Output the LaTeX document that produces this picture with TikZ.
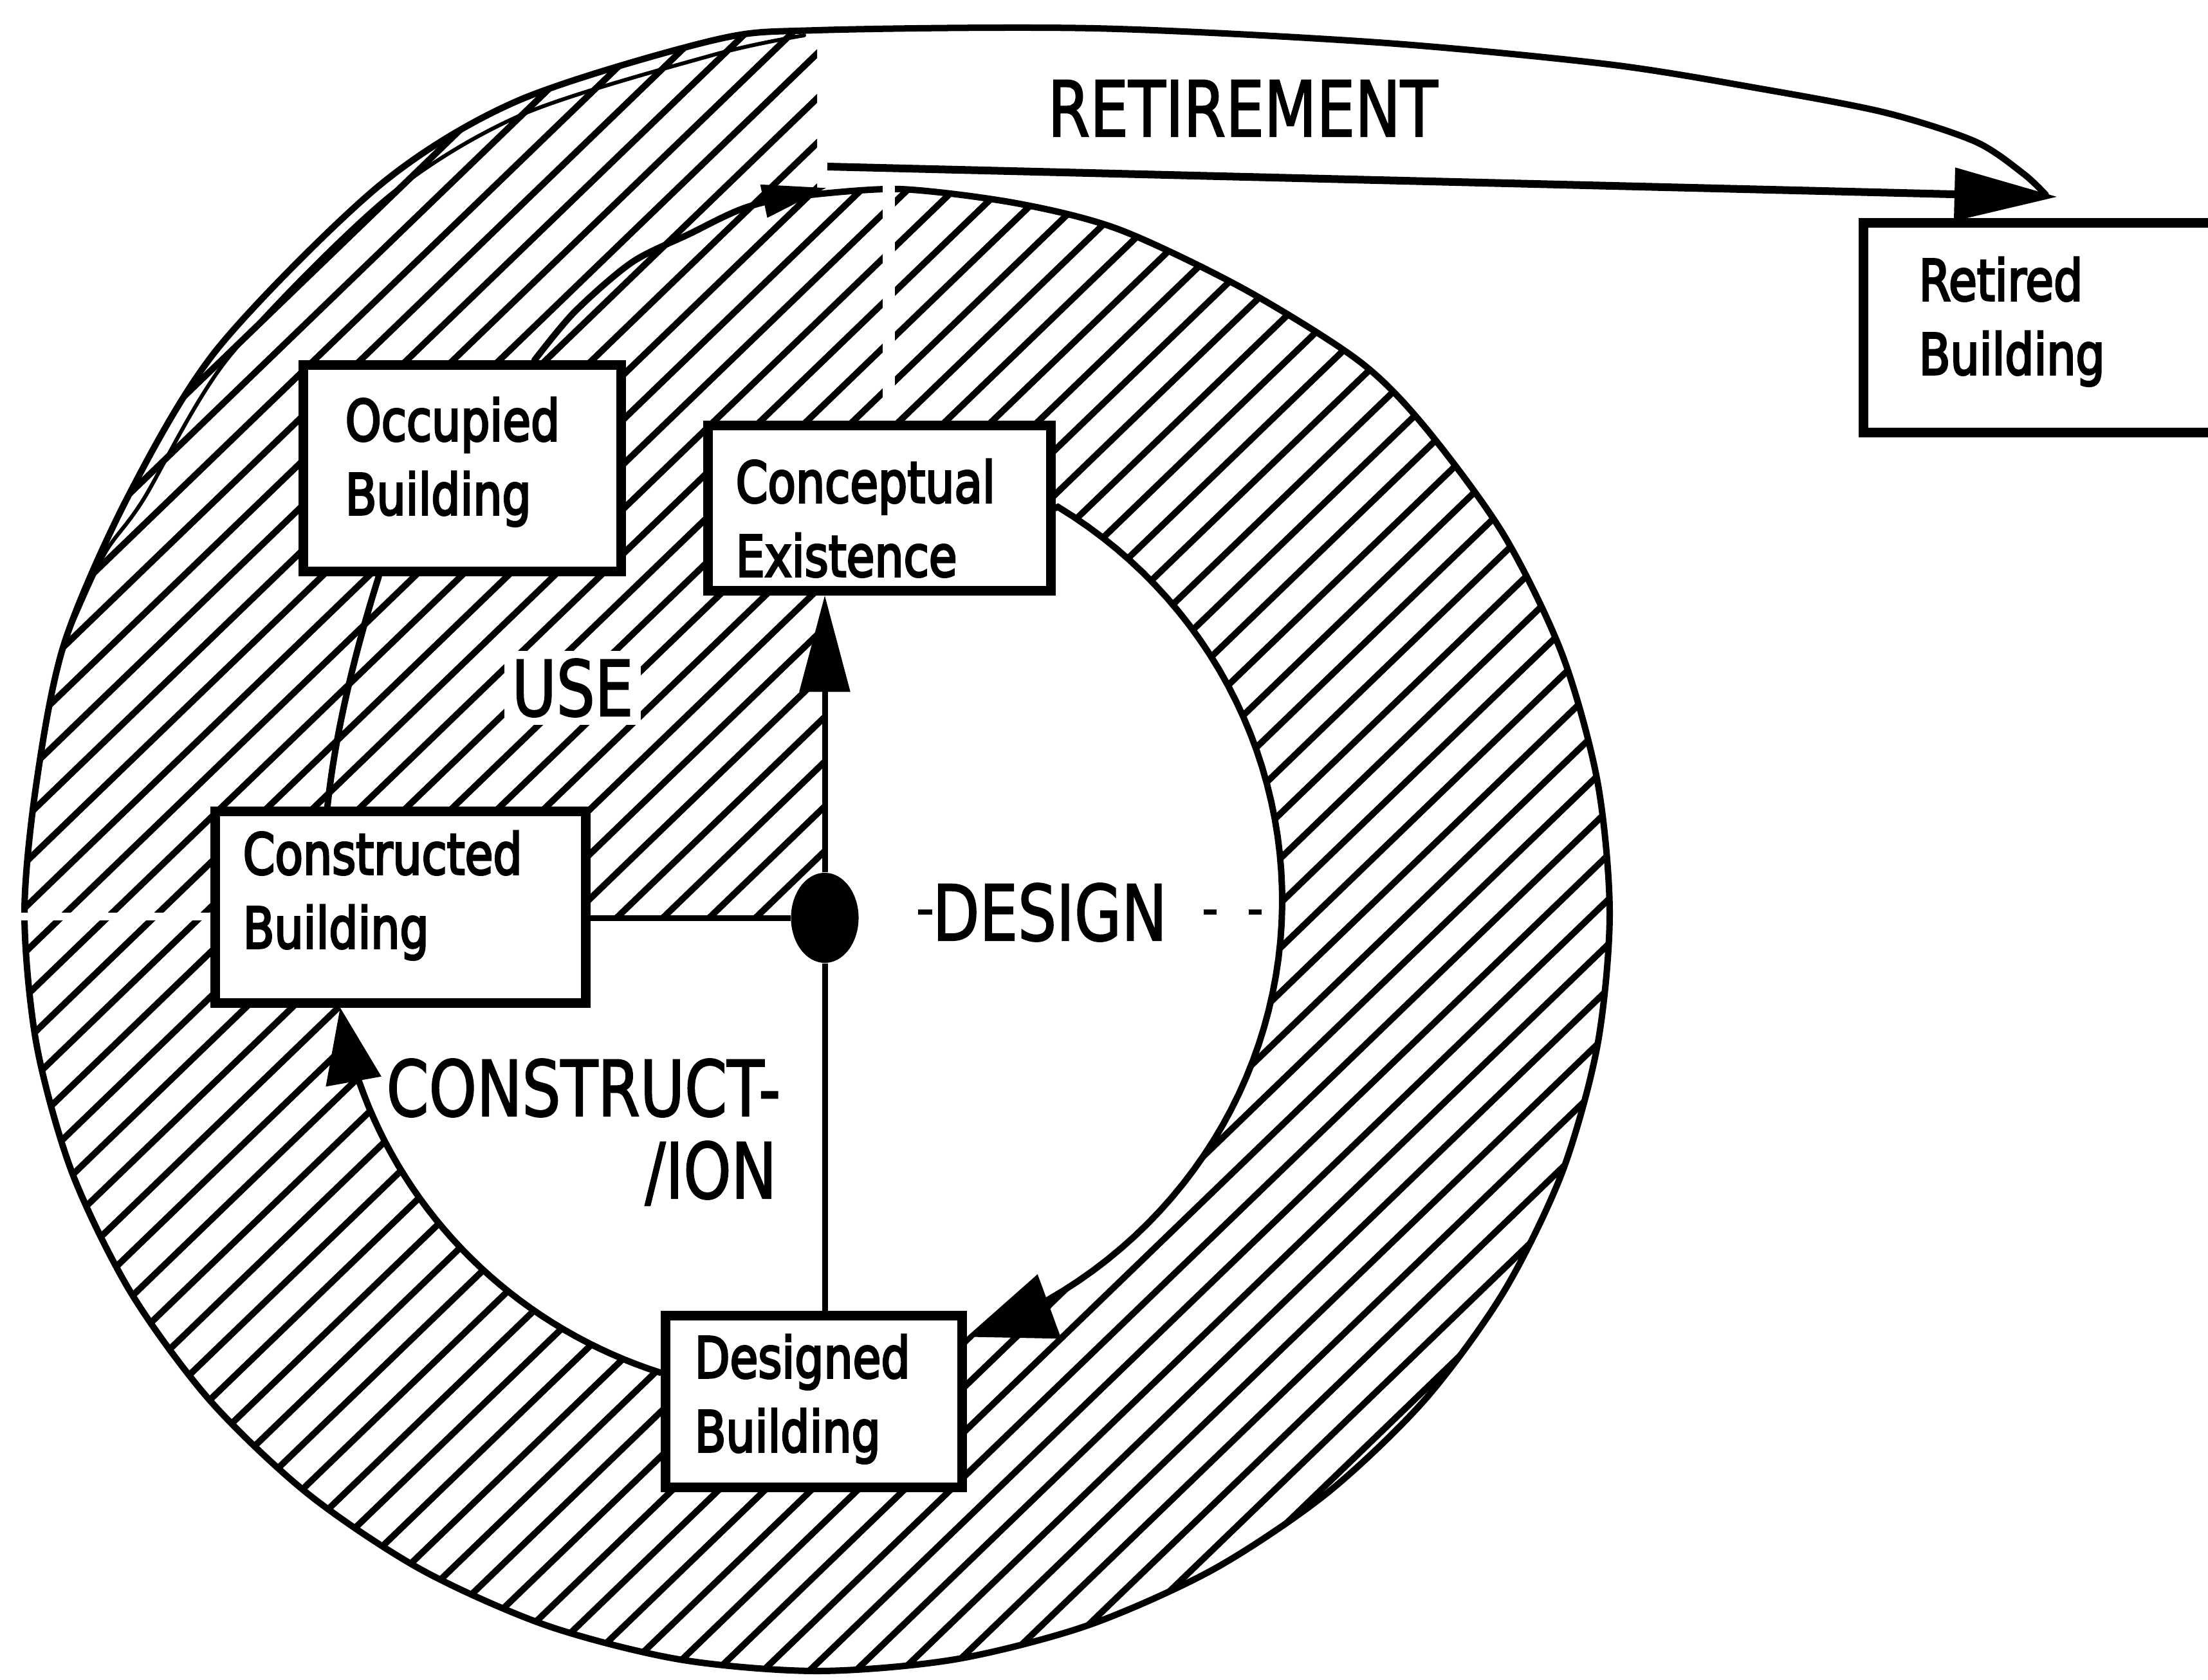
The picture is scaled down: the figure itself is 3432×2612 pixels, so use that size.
\documentclass[tikz,border=0pt]{standalone}
\usepackage{fontspec}
\setmainfont{DejaVu Sans}
\newfontfamily\stagefam{DejaVu Sans}[FakeBold=4]
\newfontfamily\phasefam{DejaVu Sans}[FakeBold=2]
\usepackage{graphicx}
\usetikzlibrary{arrows.meta,shapes.geometric,calc}
\pgfdeclarelayer{background}
\pgfsetlayers{background,main}

\newcommand{\boxfont}{\stagefam\fontsize{25}{32.7}\selectfont}
\newcommand{\bigfont}{\phasefam\fontsize{34}{40}\selectfont}
\newcommand{\twolines}[2]{\scalebox{0.81}[1]{\begin{tabular}[t]{@{}l@{}}#1\\#2\end{tabular}}}
\newcommand{\narrow}[1]{\scalebox{0.79}[1]{#1}}

\tikzset{
  stage/.style={draw, line width=0.15cm, fill=white, inner sep=0pt},
  boxlabel/.style={anchor=base west, inner sep=0pt, font=\boxfont},
  phase/.style={anchor=base west, inner sep=0pt, font=\bigfont},
  ringline/.style={line width=0.1cm, line join=round, line cap=round},
  flow/.style={line width=0.1cm, line cap=round},
  link/.style={line width=0.09cm},
  hatchline/.style={line width=0.1cm},
}

\begin{document}
\begin{tikzpicture}[x=0.01cm, y=-0.01cm]
\useasboundingbox (0,0) rectangle (3432,2612);

% life-cycle stages
\node[stage, minimum width=4.93cm, minimum height=3.20cm] (occupied) at (718.5,728) {};
\node[stage, minimum width=5.32cm, minimum height=2.56cm] (concept) at (1367,790) {};
\node[stage, minimum width=5.75cm, minimum height=2.97cm] (constructed) at (622.5,1410.5) {};
\node[stage, minimum width=4.60cm, minimum height=2.66cm] (designed) at (1265,2179) {};
\node[stage, minimum width=6.53cm, minimum height=3.25cm] (retired) at (3223.5,509.5) {};

\node[boxlabel] (occT) at (536,685) {\twolines{Occupied}{Building}};
\node[boxlabel] (conceptT) at (1143,781) {\twolines{Conceptual}{Existence}};
\node[boxlabel] (constructedT) at (377,1359) {\twolines{Constructed}{Building}};
\node[boxlabel] (designedT) at (1079,2142) {\twolines{Designed}{Building}};
\node[boxlabel] (retiredT) at (2982,467) {\twolines{Retired}{Building}};

% junction
\node[ellipse, fill=black, inner sep=0pt, minimum width=1.05cm, minimum height=1.4cm] (dot) at (1282,1427) {};

% phase names
\node[phase] (retireT) at (1628,212) {\narrow{RETIREMENT}};
\node[phase, fill=white, inner sep=0.12cm] (useT) at (783,1113) {\narrow{USE}};
\node[phase] (designT) at (1449,1462) {\narrow{DESIGN}};
\node[phase] (constrT) at (600,1735) {\narrow{CONSTRUCT-}};
\node[phase, anchor=base east] (ionT) at (1208,1863) {\narrow{/ION}};

% connector end points
\coordinate (conFrom) at ([yshift=0.445cm]designed.west);
\coordinate (useFrom) at ([xshift=1.12cm]occupied.north);
\coordinate (useTo) at (1285,292);
\coordinate (occFrom) at ([xshift=-1.135cm]constructed.north);
\coordinate (occTo) at ([xshift=-1.295cm]occupied.south);
\coordinate (retFrom) at (1286,259);
\coordinate (retTo) at (3198,306);

\begin{pgfonlayer}{background}
  % hatched ring
  \begin{scope}
    \clip plot[smooth] coordinates {(1270,303) (1400,294) (1580,316) (1740,357) (1933,449) (2112,561) (2214,663) (2337,831) (2428,1017) (2483,1215) (2502,1420) (2483,1625) (2428,1823) (2337,2009) (2214,2177) (2062,2322) (1886,2440) (1691,2527) (1484,2580) (1270,2598) (1056,2580) (849,2527) (654,2440) (478,2322) (326,2177) (203,2009) (112,1823) (57,1625) (38,1420) (57,1215) (100,1000) (200,770) (339,541) (589,289) (804,157) (1107,63) (1270,47)} -- cycle;
    \foreach \k in {-42,...,50}
      \draw[hatchline] ({\k*72},2700) -- ++(2900,-2800);
  \end{scope}
  % open interior of the cycle
  \fill[white] (1283,1428) -- (1283,918) -- (1640,918) -- (1640,790)
    -- plot[domain=58.2:-70.46, samples=60, variable=\t] ({1256+737*cos(\t)},{1400-720*sin(\t)})
    -- (1495,2090) -- (1028,2134)
    -- plot[domain=-108.06:-170.7, samples=40, variable=\t] ({1256+737*cos(\t)},{1450-720*sin(\t)})
    -- (527,1559) -- (910,1559) -- (910,1428) -- cycle;
  % ring outline running into the retirement band
  \draw[ringline] plot[smooth] coordinates {(1260,303) (1400,294) (1580,316) (1740,357) (1933,449) (2112,561) (2214,663) (2337,831) (2428,1017) (2483,1215) (2502,1420) (2483,1625) (2428,1823) (2337,2009) (2214,2177) (2062,2322) (1886,2440) (1691,2527) (1484,2580) (1270,2598) (1056,2580) (849,2527) (654,2440) (478,2322) (326,2177) (203,2009) (112,1823) (57,1625) (38,1420) (57,1215) (100,1000) (200,770) (339,541) (589,289) (804,157) (1107,63) (1270,47) (1700,44) (2142,66) (2500,100) (2737,138) (2930,175) (3070,220) (3145,270) (3180,303)};
  % second pen stroke along the upper left
  \draw[line width=0.06cm, line cap=round] plot[smooth] coordinates {(104,990) (162,862) (222,778) (355,556) (600,308) (812,178) (1110,85) (1250,55)};
  % phase boundaries left open in the hatching
  \fill[white] (1372,280) rectangle (1391,652);
  \fill[white] (15,1419) rectangle (330,1431);
\end{pgfonlayer}

% dashes beside DESIGN
\draw[line width=0.08cm] ([xshift=-0.22cm]designT.west) -- (designT.west);
\draw[line width=0.08cm, dash pattern=on 0.2cm off 0.5cm] ([xshift=0.56cm]designT.east) -- ([xshift=1.46cm]designT.east);

% connectors
\draw[link, -{Triangle[length=1.5cm,width=0.77cm]}] (dot.north) -- (dot.north |- concept.south);
\draw[link] (dot.south) -- (dot.south |- designed.north);
\draw[link] (dot.west) -- (dot.west -| constructed.east);

\draw[flow, -{Triangle[length=1.37cm,width=1.04cm]}] (concept.east)
  -- plot[domain=58.2:-70.46, samples=60, variable=\t] ({1256+737*cos(\t)},{1400-720*sin(\t)});
\draw[flow, -{Triangle[length=1.17cm,width=0.85cm]}] (conFrom)
  -- plot[domain=-108.06:-170.7, samples=40, variable=\t] ({1256+737*cos(\t)},{1450-720*sin(\t)});
\draw[flow] (occFrom) .. controls (522,1130) and (556,1000) .. (occTo);
\draw[flow, -{Triangle[length=1.0cm,width=0.5cm]}] plot[smooth] coordinates {(useFrom) (893,485) (982,408) (1071,364) (1161,322) (useTo)};
\draw[line width=0.12cm, -{Triangle[length=1.6cm,width=0.8cm]}] (retFrom) -- (retTo);
\end{tikzpicture}
\end{document}
